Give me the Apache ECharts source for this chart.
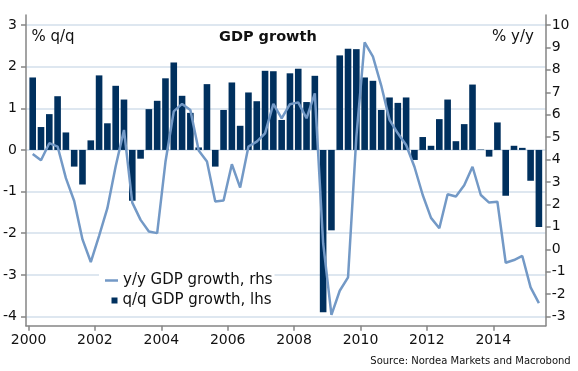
<!DOCTYPE html>
<html><head><meta charset="utf-8">
<script src="https://cdn.jsdelivr.net/npm/echarts@6/dist/echarts.min.js"></script>
<style>html,body{margin:0;padding:0;background:#fff}#c{width:578px;height:371px}</style>
</head><body><div id="c"></div>
<script>
const quarters = [];
for (let y = 2000; y <= 2015; y++) for (let q = 1; q <= 4; q++) { if (y === 2015 && q > 2) break; quarters.push(y + 'Q' + q); }

const qoqGrowth = [
  1.74, 0.55, 0.86, 1.29, 0.42, -0.40, -0.83, 0.23,
  1.79, 0.64, 1.54, 1.21, -1.22, -0.21, 0.98, 1.18,
  1.72, 2.10, 1.30, 0.89, 0.06, 1.58, -0.40, 0.96,
  1.62, 0.58, 1.38, 1.17, 1.90, 1.89, 0.72, 1.84,
  1.95, 1.15, 1.78, -3.90, -1.93, 2.27, 2.43, 2.42,
  1.74, 1.66, 0.96, 1.26, 1.13, 1.26, -0.24, 0.31,
  0.10, 0.74, 1.21, 0.21, 0.62, 1.57, 0.01, -0.16,
  0.66, -1.10, 0.10, 0.05, -0.74, -1.85
];
const yoyGrowth = [
  4.25, 3.97, 4.73, 4.58, 3.17, 2.15, 0.44, -0.57,
  0.60, 1.83, 3.70, 5.32, 2.08, 1.31, 0.79, 0.72,
  3.90, 6.15, 6.48, 6.21, 4.40, 3.91, 2.13, 2.17,
  3.79, 2.75, 4.58, 4.80, 5.17, 6.48, 5.84, 6.47,
  6.55, 5.84, 6.95, 0.27, -2.93, -1.85, -1.25, 5.00,
  9.23, 8.59, 7.30, 5.77, 5.17, 4.65, 3.68, 2.42,
  1.40, 0.94, 2.45, 2.35, 2.85, 3.68, 2.42, 2.08,
  2.12, -0.60, -0.48, -0.30, -1.70, -2.40
];
const leftTicks = [-4, -3, -2, -1, 0, 1, 2, 3];
const rightTicks = [-3, -2, -1, 0, 1, 2, 3, 4, 5, 6, 7, 8, 9, 10];
const yearTicks = [2000, 2002, 2004, 2006, 2008, 2010, 2012, 2014];

function qPos(label) {
  const y = parseInt(label.slice(0, 4), 10), q = parseInt(label.slice(5), 10);
  return y + (q - 1) / 4 + 0.125;
}
const barData = qoqGrowth.map((v, i) => [qPos(quarters[i]), v]);
const lineData = yoyGrowth.map((v, i) => [qPos(quarters[i]), v]);

const LMIN = -4.22, LMAX = 3.24;
const RK = 13 / 7, R0 = 10 - 3 * RK;
const RMIN = R0 + RK * LMIN, RMAX = R0 + RK * LMAX;

const FONT = 'DejaVu Sans';
const axisCol = '#858585';
const gridCol = '#d3dfeb';
const lblStyle = { color: '#111', fontFamily: FONT, fontSize: 14 };

const chart = echarts.init(document.getElementById('c'), null, { renderer: 'canvas' });
chart.setOption({
  animation: false,
  backgroundColor: '#fff',
  textStyle: { fontFamily: FONT },
  grid: { left: 25.7, right: 32.3, top: 15, bottom: 45.3, containLabel: false },
  title: [
    { text: 'GDP growth', left: 219, top: 30, padding: 0,
      textStyle: { fontFamily: FONT, fontSize: 14.5, fontWeight: 'bold', color: '#111' } },
    { text: '% q/q', left: 31.5, top: 30, padding: 0,
      textStyle: { fontFamily: FONT, fontSize: 15, fontWeight: 'normal', color: '#111' } },
    { text: '% y/y', left: 492, top: 30, padding: 0,
      textStyle: { fontFamily: FONT, fontSize: 15, fontWeight: 'normal', color: '#111' } },
    { text: 'Source: Nordea Markets and Macrobond', right: 7.3, top: 356.5, padding: 0,
      textStyle: { fontFamily: FONT, fontSize: 10, fontWeight: 'normal', color: '#111' } }
  ],
  legend: [
    { data: [{ name: 'y/y GDP growth, rhs' }], left: 99, top: 271, orient: 'vertical',
      icon: 'rect', itemWidth: 13, itemHeight: 2.5, backgroundColor: '#fff',
      padding: [2, 2, 2, 6], selectedMode: false, z: 10,
      textStyle: { fontFamily: FONT, fontSize: 15, color: '#111' } },
    { data: [{ name: 'q/q GDP growth, lhs' }], left: 105.5, top: 291, orient: 'vertical',
      icon: 'rect', itemWidth: 6, itemHeight: 6, backgroundColor: '#fff',
      padding: [2, 2, 2, 6], selectedMode: false, z: 10,
      textStyle: { fontFamily: FONT, fontSize: 15, color: '#111' } }
  ],
  xAxis: {
    type: 'value', min: 1999.922, max: 2015.58,
    axisLine: { show: true, onZero: false, lineStyle: { color: axisCol, width: 1.5 } },
    axisTick: { show: true, length: 5, customValues: yearTicks, lineStyle: { color: axisCol, width: 1.5 } },
    axisLabel: Object.assign({ customValues: yearTicks, margin: 8, formatter: v => String(Math.round(v)) }, lblStyle),
    splitLine: { show: false }
  },
  yAxis: [
    { type: 'value', position: 'left', min: LMIN, max: LMAX,
      axisLine: { show: true, onZero: false, lineStyle: { color: axisCol, width: 1.5 } },
      axisTick: { show: true, length: 5, customValues: leftTicks, lineStyle: { color: axisCol, width: 1.5 } },
      axisLabel: Object.assign({ customValues: leftTicks, margin: 9, formatter: v => String(Math.round(v)) }, lblStyle),
      splitLine: { show: true, lineStyle: { color: gridCol, width: 1.5 } } },
    { type: 'value', position: 'right', min: RMIN, max: RMAX,
      axisLine: { show: true, onZero: false, lineStyle: { color: axisCol, width: 1.5 } },
      axisTick: { show: true, length: 5, customValues: rightTicks, lineStyle: { color: axisCol, width: 1.5 } },
      axisLabel: Object.assign({ customValues: rightTicks, margin: 6, formatter: v => String(Math.round(v)) }, lblStyle),
      splitLine: { show: false } }
  ],
  series: [
    { name: 'q/q GDP growth, lhs', type: 'bar', data: barData, xAxisIndex: 0, yAxisIndex: 0,
      barWidth: 6.6, itemStyle: { color: '#00305e' }, z: 2 },
    { name: 'y/y GDP growth, rhs', type: 'line', data: lineData, xAxisIndex: 0, yAxisIndex: 1,
      showSymbol: false, symbol: 'none', lineStyle: { color: '#7399c6', width: 2.5 },
      itemStyle: { color: '#7399c6' }, z: 3 }
  ]
});
</script></body></html>
